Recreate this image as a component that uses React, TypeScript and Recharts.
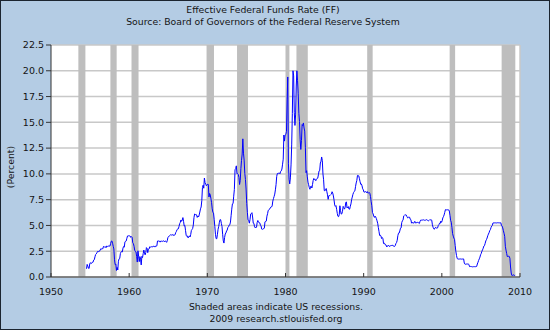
import React from 'react';
import {
  LineChart,
  Line,
  XAxis,
  YAxis,
  CartesianGrid,
  ReferenceArea,
  ReferenceLine,
} from 'recharts';

// Monthly effective fed funds rate, starting July 1954
const firstMonth = 1954 + 6 / 12;

const ff1950s = [
  0.80, 1.22, 1.06, 0.85, 0.83, 1.28,
  1.39, 1.29, 1.35, 1.43, 1.43, 1.64, 1.68, 1.96, 2.18, 2.24, 2.35, 2.48,
  2.45, 2.50, 2.50, 2.62, 2.75, 2.71, 2.75, 2.73, 2.95, 2.96, 2.88, 2.94,
  2.84, 3.00, 2.96, 3.00, 3.00, 3.00, 2.99, 3.24, 3.47, 3.50, 3.28, 2.98,
  2.72, 1.67, 1.20, 1.26, 0.63, 0.93, 0.68, 1.53, 1.76, 1.80, 2.27, 2.42,
  2.48, 2.43, 2.80, 2.96, 2.90, 3.39, 3.47, 3.50, 3.76, 3.98, 4.00, 3.99,
];

const ff1960s = [
  3.99, 3.97, 3.84, 3.92, 3.85, 3.32, 3.23, 2.98, 2.60, 2.47, 2.44, 1.98,
  1.45, 2.54, 2.02, 1.49, 1.98, 1.73, 1.17, 2.00, 1.88, 2.26, 2.61, 2.33,
  2.15, 2.37, 2.85, 2.78, 2.36, 2.68, 2.71, 2.93, 2.90, 2.90, 2.94, 2.93,
  2.92, 3.00, 2.98, 2.90, 3.00, 2.99, 3.02, 3.49, 3.48, 3.50, 3.48, 3.38,
  3.48, 3.48, 3.43, 3.47, 3.50, 3.50, 3.42, 3.50, 3.45, 3.36, 3.52, 3.85,
  3.90, 3.98, 4.04, 4.09, 4.10, 4.04, 4.09, 4.12, 4.01, 4.08, 4.10, 4.32,
  4.42, 4.60, 4.65, 4.67, 4.90, 5.17, 5.30, 5.53, 5.40, 5.53, 5.76, 5.40,
  4.94, 5.00, 4.53, 4.05, 3.94, 3.98, 3.79, 3.90, 3.99, 3.88, 4.13, 4.51,
  4.61, 4.71, 5.05, 5.76, 6.11, 6.07, 6.03, 6.03, 5.78, 5.91, 5.82, 6.02,
  6.30, 6.61, 6.79, 7.41, 8.67, 8.90, 8.61, 9.60, 9.15, 9.00, 8.85, 8.97,
];

const ff1970s = [
  8.98, 8.98, 7.76, 8.10, 7.95, 7.61, 7.21, 6.61, 6.29, 6.20, 5.60, 4.90,
  4.14, 3.72, 3.71, 4.15, 4.63, 4.91, 5.31, 5.57, 5.55, 5.20, 4.91, 4.14,
  3.50, 3.29, 3.83, 4.17, 4.27, 4.46, 4.55, 4.80, 4.87, 5.04, 5.06, 5.33,
  5.94, 6.58, 7.09, 7.12, 7.84, 8.49, 10.40, 10.50, 10.78, 10.01, 10.03, 9.95,
  9.65, 8.97, 9.35, 10.51, 11.31, 11.93, 13.40, 12.01, 11.34, 10.06, 9.45, 8.53,
  7.13, 6.24, 5.54, 5.49, 5.22, 5.55, 6.10, 6.14, 6.24, 5.82, 5.22, 5.20,
  4.87, 4.77, 4.84, 4.82, 5.29, 5.48, 5.31, 5.29, 5.25, 5.02, 4.95, 4.65,
  4.61, 4.68, 4.69, 4.73, 5.35, 5.39, 5.42, 5.90, 6.14, 6.47, 6.51, 6.56,
  6.70, 6.78, 6.79, 6.89, 7.36, 7.60, 7.81, 8.04, 8.45, 8.96, 9.76, 10.03,
  10.07, 10.06, 10.09, 10.01, 10.24, 10.29, 10.47, 10.94, 11.43, 13.77, 13.18, 13.78,
];

const ff1980s = [
  13.82, 14.13, 17.19, 19.40, 10.98, 9.47, 9.03, 9.61, 10.87, 12.81, 15.85, 20.00,
  19.50, 15.93, 14.70, 15.72, 18.52, 20.00, 19.04, 17.82, 15.87, 15.08, 13.31, 12.37,
  13.22, 14.78, 14.68, 14.94, 14.45, 14.15, 12.59, 10.12, 10.31, 9.71, 9.20, 8.95,
  8.68, 8.51, 8.77, 8.80, 8.63, 8.98, 9.37, 9.56, 9.45, 9.48, 9.34, 9.47,
  9.56, 9.59, 9.91, 10.29, 10.32, 11.06, 11.23, 11.64, 11.30, 9.99, 9.43, 8.38,
  8.35, 8.50, 8.58, 8.27, 7.97, 7.53, 7.88, 7.90, 7.92, 7.99, 8.05, 8.27,
  8.14, 7.86, 7.48, 6.99, 6.85, 6.92, 6.56, 6.17, 5.89, 5.85, 6.04, 6.91,
  6.43, 6.10, 6.13, 6.37, 6.85, 6.73, 6.58, 6.73, 7.22, 7.29, 6.69, 6.77,
  6.83, 6.58, 6.58, 6.87, 7.09, 7.51, 7.75, 8.01, 8.19, 8.30, 8.35, 8.76,
  9.12, 9.36, 9.85, 9.84, 9.81, 9.53, 9.24, 8.99, 9.02, 8.84, 8.55, 8.45,
];

const ff1990s = [
  8.23, 8.24, 8.28, 8.26, 8.18, 8.29, 8.15, 8.13, 8.20, 8.11, 7.81, 7.31,
  6.91, 6.25, 6.12, 5.91, 5.78, 5.90, 5.82, 5.66, 5.45, 5.21, 4.81, 4.43,
  4.03, 4.06, 3.98, 3.73, 3.82, 3.76, 3.25, 3.30, 3.22, 3.10, 3.09, 2.92,
  3.02, 3.03, 3.07, 2.96, 3.00, 3.04, 3.06, 3.03, 3.09, 2.99, 3.02, 2.96,
  3.05, 3.25, 3.34, 3.56, 4.01, 4.25, 4.26, 4.47, 4.73, 4.76, 5.29, 5.45,
  5.53, 5.92, 5.98, 6.05, 6.01, 6.00, 5.85, 5.74, 5.80, 5.76, 5.80, 5.60,
  5.56, 5.22, 5.31, 5.22, 5.24, 5.27, 5.40, 5.22, 5.30, 5.24, 5.31, 5.29,
  5.25, 5.19, 5.39, 5.51, 5.50, 5.56, 5.52, 5.54, 5.54, 5.50, 5.52, 5.50,
  5.56, 5.51, 5.49, 5.45, 5.49, 5.56, 5.54, 5.55, 5.51, 5.07, 4.83, 4.68,
  4.63, 4.76, 4.81, 4.74, 4.74, 4.76, 4.99, 5.07, 5.22, 5.20, 5.42, 5.30,
];

const ff2000s = [
  5.45, 5.73, 5.85, 6.02, 6.27, 6.53, 6.54, 6.50, 6.52, 6.51, 6.51, 6.40,
  5.98, 5.49, 5.31, 4.80, 4.21, 3.97, 3.77, 3.65, 3.07, 2.49, 2.09, 1.82,
  1.73, 1.74, 1.73, 1.75, 1.75, 1.75, 1.73, 1.74, 1.75, 1.75, 1.34, 1.24,
  1.24, 1.26, 1.25, 1.26, 1.26, 1.22, 1.01, 1.03, 1.01, 1.01, 1.00, 0.98,
  1.00, 1.01, 1.00, 1.00, 1.00, 1.03, 1.26, 1.43, 1.61, 1.76, 1.93, 2.16,
  2.28, 2.50, 2.63, 2.79, 3.00, 3.04, 3.26, 3.50, 3.62, 3.78, 4.00, 4.16,
  4.29, 4.49, 4.59, 4.79, 4.94, 4.99, 5.24, 5.25, 5.25, 5.25, 5.25, 5.24,
  5.25, 5.26, 5.26, 5.25, 5.25, 5.25, 5.26, 5.02, 4.94, 4.76, 4.49, 4.24,
  3.94, 2.98, 2.61, 2.28, 1.98, 2.00, 2.01, 2.00, 1.81, 0.97, 0.39, 0.16,
  0.15, 0.22, 0.18, 0.15, 0.18,
];

const recessions = [
  [1953.5, 1954.4],
  [1957.6, 1958.4],
  [1960.3, 1961.2],
  [1969.9, 1970.85],
  [1973.8, 1975.2],
  [1980.0, 1980.5],
  [1981.4, 1982.85],
  [1990.45, 1991.15],
  [2001.0, 2001.7],
  [2007.65, 2009.4],
];

const xTicks = [1950, 1960, 1970, 1980, 1990, 2000, 2010];
const yTicks = [0, 2.5, 5, 7.5, 10, 12.5, 15, 17.5, 20, 22.5];

const rates = [...ff1950s, ...ff1960s, ...ff1970s, ...ff1980s, ...ff1990s, ...ff2000s];
const chartData = rates.map((rate, i) => ({ date: firstMonth + (i + 0.5) / 12, rate }));

const font = "'DejaVu Sans', Verdana, sans-serif";
const textColor = '#141414';
const tickStyle = { fontSize: 9.5, fill: textColor, fontFamily: font };

const textLine = (top: number, left: number, width: number): React.CSSProperties => ({
  position: 'absolute',
  top,
  left,
  width,
  textAlign: 'center',
  fontFamily: font,
  fontSize: 9.3,
  lineHeight: '12px',
  color: textColor,
  whiteSpace: 'nowrap',
});

export default function App() {
  return (
    <div
      style={{
        position: 'absolute',
        left: 0,
        top: 0,
        width: 550,
        height: 330,
        background: '#b4cce4',
        overflow: 'hidden',
      }}
    >
      <div style={textLine(4, 0, 526)}>Effective Federal Funds Rate (FF)</div>
      <div style={textLine(16, 0, 526)}>Source: Board of Governors of the Federal Reserve System</div>

      <div style={{ position: 'absolute', left: 0, top: 0 }}>
        <LineChart
          width={550}
          height={330}
          data={chartData}
          margin={{ top: 45, right: 30, bottom: 33, left: 6 }}
        >
          <CartesianGrid
            vertical={false}
            stroke="#c8c8c8"
            strokeWidth={1.5}
            fill="#ffffff"
            fillOpacity={1}
          />
          {recessions.map(([x1, x2]) => (
            <ReferenceArea
              key={x1}
              x1={x1}
              x2={x2}
              fill="#bebebe"
              fillOpacity={1}
              stroke="none"
            />
          ))}
          <ReferenceLine x={2010} stroke="#c8c8c8" strokeWidth={1.5} />
          <XAxis
            type="number"
            dataKey="date"
            domain={[1950, 2010]}
            ticks={xTicks}
            height={20}
            stroke="#333"
            tickSize={-4}
            tickMargin={15}
            tick={tickStyle}
          />
          <YAxis
            domain={[0, 22.5]}
            ticks={yTicks}
            width={45}
            stroke="#333"
            tickSize={5}
            tickMargin={2}
            tick={tickStyle}
            tickFormatter={(v: number) => v.toFixed(1)}
          />
          <Line
            type="linear"
            dataKey="rate"
            stroke="#0000ff"
            strokeWidth={1}
            dot={false}
            isAnimationActive={false}
          />
        </LineChart>
      </div>

      <div
        style={{
          position: 'absolute',
          left: 10,
          top: 167,
          transform: 'translate(-50%, -50%) rotate(-90deg)',
          fontFamily: font,
          fontSize: 9.3,
          color: textColor,
          whiteSpace: 'nowrap',
        }}
      >
        (Percent)
      </div>

      <div style={textLine(301, 0, 552)}>Shaded areas indicate US recessions.</div>
      <div style={textLine(313, 0, 552)}>2009 research.stlouisfed.org</div>

      <div
        style={{
          position: 'absolute',
          left: 0,
          top: 0,
          width: 550,
          height: 330,
          boxSizing: 'border-box',
          border: '1px solid #1c2530',
          pointerEvents: 'none',
        }}
      />
    </div>
  );
}
